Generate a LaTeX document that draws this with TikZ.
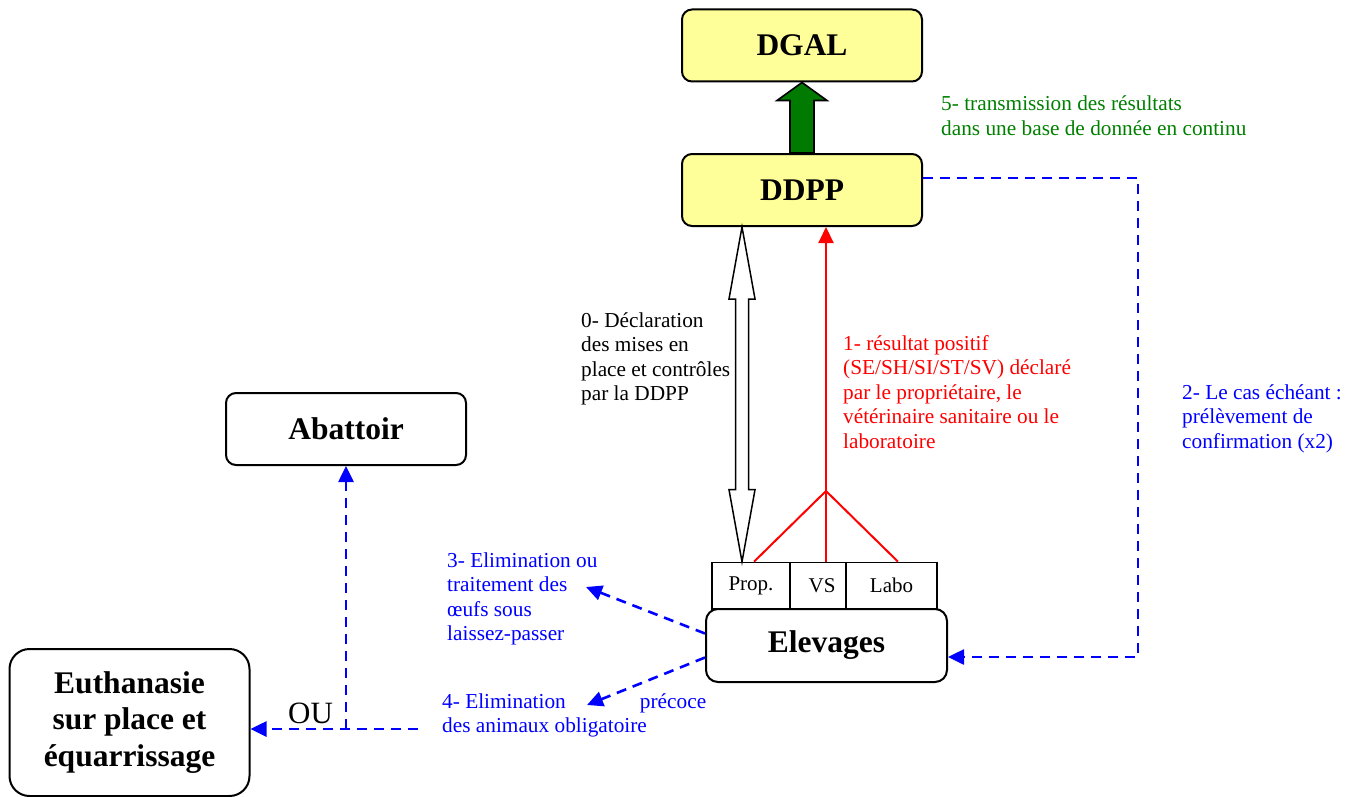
\documentclass[tikz,border=0pt]{standalone}
\usepackage{fontspec}
\setmainfont{Liberation Serif}
\usetikzlibrary{arrows.meta,calc}
\definecolor{boxyellow}{HTML}{FFFF99}
\definecolor{dgreen}{HTML}{008000}
\definecolor{arrowgreen}{HTML}{007A00}
\newcommand{\mylines}[1]{\begin{tabular}[t]{@{}l@{}}#1\end{tabular}}
\begin{document}
\begin{tikzpicture}[x=1pt,y=-1pt,
  box/.style={draw,line width=2pt,rounded corners=10pt,inner sep=0pt,
    font=\fontsize{31.5}{36.5}\selectfont\bfseries,align=center},
  ybox/.style={box,fill=boxyellow},
  cell/.style={draw,line width=1.6pt,inner sep=0pt,minimum height=46.5pt,
    font=\fontsize{21}{25}\selectfont},
  lbl/.style={inner sep=0pt,anchor=base west,font=\fontsize{21.3}{24.5}\selectfont},
  bdash/.style={draw=blue,line width=2.6pt,dash pattern=on 10pt off 7pt,
    -{Triangle[length=16pt,width=15pt]}},
]
\useasboundingbox (0,0) rectangle (1359,797);

% boxes
\node[ybox,minimum width=240pt,minimum height=72pt] (dgal) at (802,45.5) {DGAL};
\node[ybox,minimum width=240pt,minimum height=72pt] (ddpp) at (802,190) {DDPP};
\node[box,minimum width=240pt,minimum height=72pt] (abat) at (346,429) {Abattoir};
\node[box,rounded corners=20pt,minimum width=240pt,minimum height=147pt] (euth) at (129.5,722.5) {Euthanasie\\sur place et\\équarrissage};
\node[box,rounded corners=12pt,minimum width=241pt,minimum height=73pt] (elev) at (826.5,645.5) {Elevages};

\node[cell,minimum width=78pt] (prop) at (751,585.75) {\raisebox{-1pt}{Prop.}};
\node[cell,minimum width=56pt] (vs) at (818,585.75) {\hspace*{8pt}\raisebox{-1pt}{VS}};
\node[cell,minimum width=91pt] (labo) at (891.5,585.75) {\raisebox{-1pt}{Labo}};

% green block arrow DDPP -> DGAL
\coordinate (ga) at (ddpp.north);
\coordinate (gb) at (dgal.south);
\draw[line width=1.6pt,fill=arrowgreen,line join=miter]
  ($(ga)+(-12,0)$) -- ($(gb)+(-12,18)$) -- ($(gb)+(-25,18)$) -- (gb)
  -- ($(gb)+(25,18)$) -- ($(gb)+(12,18)$) -- ($(ga)+(12,0)$) -- cycle;

% white double arrow DDPP <-> Prop.
\coordinate (wt) at ($(ddpp.south)+(-60,0)$);
\coordinate (wb) at ($(prop.north)+(-9,0)$);
\draw[line width=1.5pt,fill=white,line join=miter]
  (wt) -- ($(wt)+(13,72)$) -- ($(wt)+(6.5,72)$) -- ($(wb)+(6.5,-72)$)
  -- ($(wb)+(13,-72)$) -- (wb) -- ($(wb)+(-13,-72)$) -- ($(wb)+(-6.5,-72)$)
  -- ($(wt)+(-6.5,72)$) -- ($(wt)+(-13,72)$) -- cycle;

% red branching arrow
\coordinate (rb) at (826,491);
\draw[red,line width=2pt] ($(prop.north)+(3,0)$) -- (rb) -- ($(labo.north)+(6.5,0)$);
\draw[red,line width=2pt,-{Triangle[length=16pt,width=15pt]}]
  ($(vs.north)+(8,0)$) -- (rb) -- (rb |- ddpp.south);

% blue dashed DDPP -> Elevages
\coordinate (rc) at (1138,178);
\draw[bdash] ($(ddpp.east)+(0,-12)$) -- (rc) |- ($(elev.east)+(0,11.5)$);

% blue dashed from Elevages
\coordinate (t3) at (586,587);
\coordinate (t4) at (587,705);
\draw[bdash] ($(elev.west)+(0,-12)$) -- (t3);
\draw[bdash] ($(elev.west)+(0,12)$) -- (t4);

% OU route
\coordinate (ou) at (418,729);
\coordinate (jn) at (346,729);
\draw[bdash] (ou) -- (euth.east |- ou);
\draw[bdash] (jn) -- (abat.south);
\node[inner sep=0pt,anchor=base west,font=\fontsize{31}{36}\selectfont] (oulbl) at (288,723) {OU};

% labels
\node[lbl,dgreen] (l5) at (941,111) {\mylines{5- transmission des résultats\\dans une base de donnée en continu}};
\node[lbl] (l0) at (581,327) {\mylines{0- Déclaration\\des mises en\\place et contrôles\\par la DDPP}};
\node[lbl,red] (l1) at (843,350) {\mylines{1- résultat positif\\(SE/SH/SI/ST/SV) déclaré\\par le propriétaire, le\\vétérinaire sanitaire ou le\\laboratoire}};
\node[lbl,blue] (l2) at (1182,399) {\mylines{2- Le cas échéant :\\prélèvement de\\confirmation (x2)}};
\node[lbl,blue] (l3) at (447,567) {\mylines{3- Elimination ou\\traitement des\\œufs sous\\laissez-passer}};
\node[lbl,blue] (l4) at (442,708) {\parbox[t]{264pt}{\fontsize{21.3}{24.5}\selectfont 4- Elimination\hfill précoce\\des animaux obligatoire}};
\end{tikzpicture}
\end{document}
